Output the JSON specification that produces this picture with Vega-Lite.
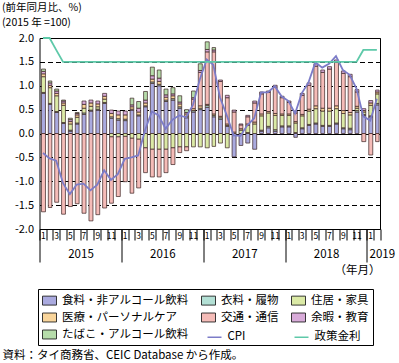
{
  "$schema": "https://vega.github.io/schema/vega-lite/v6.json",
  "width": 340.5,
  "height": 191,
  "autosize": {"type": "none"},
  "padding": {"left": 39.5, "top": 38, "right": 19, "bottom": 134},
  "background": "white",
  "config": {
    "font": "Noto Sans CJK JP",
    "view": {"stroke": "black", "strokeWidth": 1},
    "axis": {"labelColor": "black", "titleColor": "black", "tickColor": "black", "domainColor": "black", "labelFont": "Noto Sans CJK JP", "titleFont": "Noto Sans CJK JP"},
    "legend": {"labelFont": "Noto Sans CJK JP", "labelFontSize": 11.5, "labelColor": "black", "labelLimit": 300, "symbolSize": 196, "labelOffset": 5, "title": null}
  },
  "title": {"text": "資料：タイ商務省、CEIC Database から作成。", "orient": "bottom", "anchor": "start", "frame": "group", "fontSize": 11.5, "fontWeight": "normal", "color": "black", "dx": -37, "offset": 4},
  "datasets": {
    "cats": [
      {"key": "F", "cat": "食料・非アルコール飲料", "k": 1},
      {"key": "C", "cat": "衣料・履物", "k": 2},
      {"key": "H", "cat": "住居・家具", "k": 3},
      {"key": "M", "cat": "医療・パーソナルケア", "k": 4},
      {"key": "T", "cat": "交通・通信", "k": 5},
      {"key": "R", "cat": "余暇・教育", "k": 6},
      {"key": "B", "cat": "たばこ・アルコール飲料", "k": 7},
      {"key": "CPI", "cat": "CPI", "k": 8},
      {"key": "rate", "cat": "政策金利", "k": 9}
    ]
  },
  "data": {"values": [
    {"d": "2015-01-01", "F": 0.84, "C": 0.02, "H": 0.33, "M": 0.06, "T": -1.64, "R": 0.05, "B": 0.05, "CPI": -0.41, "rate": 2.0},
    {"d": "2015-02-01", "F": 0.61, "C": 0.02, "H": 0.33, "M": 0.05, "T": -1.55, "R": 0.05, "B": 0.04, "CPI": -0.52, "rate": 2.0},
    {"d": "2015-03-01", "F": 0.44, "C": 0.02, "H": 0.33, "M": 0.05, "T": -1.44, "R": 0.05, "B": 0.04, "CPI": -0.57, "rate": 1.75},
    {"d": "2015-04-01", "F": 0.21, "C": 0.02, "H": 0.36, "M": 0.05, "T": -1.69, "R": 0.04, "B": 0.02, "CPI": -1.04, "rate": 1.5},
    {"d": "2015-05-01", "F": 0.05, "C": 0.02, "H": 0.13, "M": 0.05, "T": -1.53, "R": 0.04, "B": 0.03, "CPI": -1.27, "rate": 1.5},
    {"d": "2015-06-01", "F": 0.20, "C": 0.02, "H": 0.12, "M": 0.05, "T": -1.47, "R": 0.03, "B": 0.02, "CPI": -1.07, "rate": 1.5},
    {"d": "2015-07-01", "F": 0.40, "C": 0.03, "H": 0.10, "M": 0.08, "T": -1.67, "R": 0.07, "B": 0, "CPI": -1.05, "rate": 1.5},
    {"d": "2015-08-01", "F": 0.47, "C": 0.02, "H": 0.08, "M": 0.07, "T": -1.83, "R": 0.06, "B": 0, "CPI": -1.19, "rate": 1.5},
    {"d": "2015-09-01", "F": 0.49, "C": 0.02, "H": 0.05, "M": 0.06, "T": -1.70, "R": 0.06, "B": 0, "CPI": -1.07, "rate": 1.5},
    {"d": "2015-10-01", "F": 0.63, "C": 0.02, "H": 0.07, "M": 0.06, "T": -1.56, "R": 0.06, "B": 0, "CPI": -0.77, "rate": 1.5},
    {"d": "2015-11-01", "F": 0.32, "C": 0.03, "H": -0.07, "M": 0.07, "T": -1.39, "R": 0.07, "B": 0, "CPI": -0.97, "rate": 1.5},
    {"d": "2015-12-01", "F": 0.28, "C": 0.03, "H": -0.07, "M": 0.08, "T": -1.25, "R": 0.08, "B": 0, "CPI": -0.85, "rate": 1.5},
    {"d": "2016-01-01", "F": 0.27, "C": 0.03, "H": -0.06, "M": 0.09, "T": -0.95, "R": 0.08, "B": 0, "CPI": -0.53, "rate": 1.5},
    {"d": "2016-02-01", "F": 0.49, "C": 0.02, "H": -0.10, "M": 0.05, "T": -1.15, "R": 0.04, "B": 0.14, "CPI": -0.50, "rate": 1.5},
    {"d": "2016-03-01", "F": 0.37, "C": 0.02, "H": -0.12, "M": 0.06, "T": -1.02, "R": 0.08, "B": 0.14, "CPI": -0.46, "rate": 1.5},
    {"d": "2016-04-01", "F": 0.56, "C": 0.02, "H": -0.30, "M": 0.06, "T": -0.52, "R": 0.06, "B": 0.18, "CPI": 0.07, "rate": 1.5},
    {"d": "2016-05-01", "F": 1.05, "C": 0.03, "H": -0.33, "M": 0.06, "T": -0.58, "R": 0.07, "B": 0.18, "CPI": 0.46, "rate": 1.5},
    {"d": "2016-06-01", "F": 1.00, "C": 0.03, "H": -0.33, "M": 0.06, "T": -0.58, "R": 0.07, "B": 0.17, "CPI": 0.38, "rate": 1.5},
    {"d": "2016-07-01", "F": 0.67, "C": 0.03, "H": -0.33, "M": 0.06, "T": -0.49, "R": 0.05, "B": 0.12, "CPI": 0.10, "rate": 1.5},
    {"d": "2016-08-01", "F": 0.70, "C": 0.03, "H": -0.30, "M": 0.06, "T": -0.35, "R": 0.04, "B": 0.13, "CPI": 0.29, "rate": 1.5},
    {"d": "2016-09-01", "F": 0.53, "C": 0.03, "H": -0.28, "M": 0.06, "T": -0.12, "R": 0.04, "B": 0.13, "CPI": 0.38, "rate": 1.5},
    {"d": "2016-10-01", "F": 0.33, "C": 0.03, "H": -0.28, "M": 0.05, "T": -0.08, "R": 0.03, "B": 0.06, "CPI": 0.34, "rate": 1.5},
    {"d": "2016-11-01", "F": 0.45, "C": 0.03, "H": -0.28, "M": 0.04, "T": 0.20, "R": 0.03, "B": 0.14, "CPI": 0.60, "rate": 1.5},
    {"d": "2016-12-01", "F": 0.50, "C": 0.03, "H": -0.28, "M": 0.05, "T": 0.70, "R": 0.04, "B": 0.14, "CPI": 1.13, "rate": 1.5},
    {"d": "2017-01-01", "F": 0.55, "C": 0.04, "H": -0.30, "M": 0.02, "T": 1.10, "R": 0.05, "B": 0.16, "CPI": 1.55, "rate": 1.5},
    {"d": "2017-02-01", "F": 0.35, "C": 0.03, "H": -0.27, "M": 0.03, "T": 1.30, "R": 0.04, "B": 0.05, "CPI": 1.44, "rate": 1.5},
    {"d": "2017-03-01", "F": 0.30, "C": 0.03, "H": -0.20, "M": 0.03, "T": 0.73, "R": 0.03, "B": 0, "CPI": 0.76, "rate": 1.5},
    {"d": "2017-04-01", "F": 0.15, "C": 0.02, "H": -0.30, "M": 0.03, "T": 0.55, "R": 0.05, "B": 0, "CPI": 0.38, "rate": 1.5},
    {"d": "2017-05-01", "F": -0.49, "C": 0, "H": 0, "M": 0.03, "T": 0.42, "R": 0.04, "B": 0, "CPI": -0.04, "rate": 1.5},
    {"d": "2017-06-01", "F": -0.25, "C": 0, "H": 0.07, "M": 0.03, "T": 0.08, "R": 0.02, "B": 0, "CPI": -0.05, "rate": 1.5},
    {"d": "2017-07-01", "F": -0.20, "C": 0.02, "H": 0.15, "M": 0.03, "T": 0.15, "R": 0.03, "B": 0, "CPI": 0.17, "rate": 1.5},
    {"d": "2017-08-01", "F": -0.33, "C": 0, "H": 0.20, "M": 0.04, "T": 0.40, "R": 0.04, "B": 0, "CPI": 0.32, "rate": 1.5},
    {"d": "2017-09-01", "F": 0.05, "C": 0.02, "H": 0.30, "M": 0.04, "T": 0.42, "R": 0.04, "B": 0, "CPI": 0.86, "rate": 1.5},
    {"d": "2017-10-01", "F": 0.12, "C": 0.03, "H": 0.28, "M": 0.03, "T": 0.40, "R": 0.03, "B": 0, "CPI": 0.86, "rate": 1.5},
    {"d": "2017-11-01", "F": 0.05, "C": 0.03, "H": 0.30, "M": 0.04, "T": 0.55, "R": 0.04, "B": 0, "CPI": 0.99, "rate": 1.5},
    {"d": "2017-12-01", "F": 0.14, "C": 0.02, "H": 0.22, "M": 0.03, "T": 0.34, "R": 0.03, "B": 0, "CPI": 0.78, "rate": 1.5},
    {"d": "2018-01-01", "F": 0.14, "C": 0.02, "H": 0.22, "M": 0.03, "T": 0.24, "R": 0.03, "B": 0, "CPI": 0.68, "rate": 1.5},
    {"d": "2018-02-01", "F": -0.08, "C": 0.02, "H": 0.20, "M": 0.03, "T": 0.18, "R": 0.04, "B": 0, "CPI": 0.42, "rate": 1.5},
    {"d": "2018-03-01", "F": 0.10, "C": 0.02, "H": 0.25, "M": 0.03, "T": 0.40, "R": 0.04, "B": 0, "CPI": 0.84, "rate": 1.5},
    {"d": "2018-04-01", "F": 0.17, "C": 0.02, "H": 0.28, "M": 0.04, "T": 0.50, "R": 0.05, "B": 0, "CPI": 1.07, "rate": 1.5},
    {"d": "2018-05-01", "F": 0.20, "C": 0.02, "H": 0.30, "M": 0.06, "T": 0.83, "R": 0.05, "B": 0, "CPI": 1.49, "rate": 1.5},
    {"d": "2018-06-01", "F": 0.15, "C": 0.02, "H": 0.30, "M": 0.06, "T": 0.75, "R": 0.05, "B": 0, "CPI": 1.38, "rate": 1.5},
    {"d": "2018-07-01", "F": 0.15, "C": 0.02, "H": 0.30, "M": 0.06, "T": 0.82, "R": 0.05, "B": 0, "CPI": 1.46, "rate": 1.5},
    {"d": "2018-08-01", "F": 0.20, "C": 0.02, "H": 0.30, "M": 0.06, "T": 0.91, "R": 0.05, "B": 0, "CPI": 1.62, "rate": 1.5},
    {"d": "2018-09-01", "F": 0.10, "C": 0.02, "H": 0.30, "M": 0.06, "T": 0.78, "R": 0.05, "B": 0, "CPI": 1.33, "rate": 1.5},
    {"d": "2018-10-01", "F": 0.08, "C": 0.03, "H": 0.28, "M": 0.05, "T": 0.75, "R": 0.05, "B": 0, "CPI": 1.23, "rate": 1.5},
    {"d": "2018-11-01", "F": 0.45, "C": 0.03, "H": 0.05, "M": 0.04, "T": 0.30, "R": 0.05, "B": 0, "CPI": 0.94, "rate": 1.5},
    {"d": "2018-12-01", "F": 0.38, "C": 0.02, "H": 0.05, "M": 0.03, "T": -0.17, "R": 0.04, "B": 0, "CPI": 0.36, "rate": 1.75},
    {"d": "2019-01-01", "F": 0.35, "C": 0.02, "H": 0.22, "M": 0.05, "T": -0.45, "R": 0.05, "B": 0, "CPI": 0.27, "rate": 1.75},
    {"d": "2019-02-01", "F": 0.60, "C": 0.03, "H": 0.20, "M": 0.04, "T": -0.17, "R": 0.04, "B": 0, "CPI": 0.73, "rate": 1.75}
  ]},
  "encoding": {
    "y": {
      "field": "v", "type": "quantitative",
      "scale": {"domain": [-2, 2], "nice": false},
      "axis": {
        "values": [-2, -1.5, -1, -0.5, 0, 0.5, 1, 1.5, 2],
        "labelExpr": "replace(format(datum.value, '.1f'), '\u2212', '-')",
        "labelFontSize": 11, "ticks": false, "labelPadding": 6, "domain": false,
        "grid": true, "gridColor": "black", "gridWidth": 1,
        "gridDash": {"condition": {"test": "datum.value == 0", "value": []}, "value": [5, 3]},
        "title": ["(前年同月比、%)", "(2015 年 =100)"],
        "titleAngle": 0, "titleAlign": "left", "titleBaseline": "middle",
        "titleX": -38, "titleY": -30.2, "titleFontSize": 10.5, "titleFontWeight": "normal", "titleLineHeight": 15
      }
    }
  },
  "layer": [
    {
      "transform": [
        {"fold": ["F", "C", "H", "M", "T", "R", "B"], "as": ["key", "v"]},
        {"filter": "datum.v != 0"},
        {"lookup": "key", "from": {"data": {"name": "cats"}, "key": "key", "fields": ["cat", "k"]}}
      ],
      "mark": {"type": "bar", "stroke": "#3a2222", "strokeWidth": 0.7, "width": {"band": 0.72}},
      "encoding": {
        "x": {
          "field": "d", "type": "temporal", "timeUnit": "utcyearmonth",
          "scale": {"type": "utc", "domain": [{"year": 2015, "month": 1, "date": 1, "utc": true}, {"year": 2019, "month": 3, "date": 1, "utc": true}]},
          "axis": {
            "orient": "bottom", "title": null, "grid": false,
            "tickCount": {"interval": "month", "step": 1},
            "labelExpr": "(utcmonth(datum.value) % 2 == 0 && utcyear(datum.value) * 12 + utcmonth(datum.value) < 2019 * 12 + 2) ? '' + (utcmonth(datum.value) + 1) : ''",
            "labelOffset": 3.4, "labelFontSize": 8.5, "tickSize": 11, "labelPadding": -9,
            "labelAlign": "center", "labelBaseline": "top",
            "labelOverlap": false, "labelBound": false, "labelFlush": false
          }
        },
        "fill": {
          "field": "cat", "type": "nominal",
          "scale": {
            "domain": ["食料・非アルコール飲料", "衣料・履物", "住居・家具", "医療・パーソナルケア", "交通・通信", "余暇・教育", "たばこ・アルコール飲料"],
            "range": ["#aaaadf", "#b3e0d5", "#dbeaa6", "#f9d59b", "#f5bcb8", "#d8abd9", "#b6dcaa"]
          },
          "legend": {
            "orient": "none", "legendX": -1.5, "legendY": 251,
            "columns": 3, "direction": "horizontal",
            "strokeColor": "black", "padding": 4, "columnPadding": 10, "rowPadding": 3,
            "symbolType": "M-1,-0.64H1V0.64H-1Z", "symbolStrokeColor": "#222222", "symbolStrokeWidth": 0.9
          }
        },
        "order": {"field": "k", "type": "quantitative"}
      }
    },
    {
      "transform": [
        {"fold": ["CPI", "rate"], "as": ["key", "v"]},
        {"lookup": "key", "from": {"data": {"name": "cats"}, "key": "key", "fields": ["cat", "k"]}}
      ],
      "mark": {"type": "line", "strokeWidth": 1.8},
      "encoding": {
        "x": {
          "field": "d", "type": "temporal", "timeUnit": "utcyearmonth", "bandPosition": 0.5,
          "axis": {
            "orient": "bottom", "grid": false, "domain": false,
            "tickCount": {"interval": "year", "step": 1},
            "labelExpr": "'' + utcyear(datum.value)",
            "tickSize": 33, "labelPadding": -14, "labelFontSize": 11.5,
            "labelAlign": "center", "labelBaseline": "top",
            "labelOffset": {"condition": {"test": "utcyear(datum.value) == 2019", "value": 15}, "value": 41},
            "labelOverlap": false, "labelBound": false, "labelFlush": false,
            "title": "（年月）", "titleAnchor": "end", "titleAlign": "right",
            "titleFontSize": 11.5, "titleFontWeight": "normal", "titlePadding": 2
          }
        },
        "stroke": {
          "field": "cat", "type": "nominal",
          "scale": {"domain": ["CPI", "政策金利"], "range": ["#7c7cc8", "#5ec9a9"]},
          "legend": {
            "orient": "none", "legendX": 167, "legendY": 291,
            "direction": "horizontal", "columns": 2,
            "padding": 0, "columnPadding": 46,
            "symbolType": "stroke", "symbolStrokeWidth": 1.5
          }
        }
      }
    }
  ],
  "resolve": {"axis": {"x": "independent"}}
}
